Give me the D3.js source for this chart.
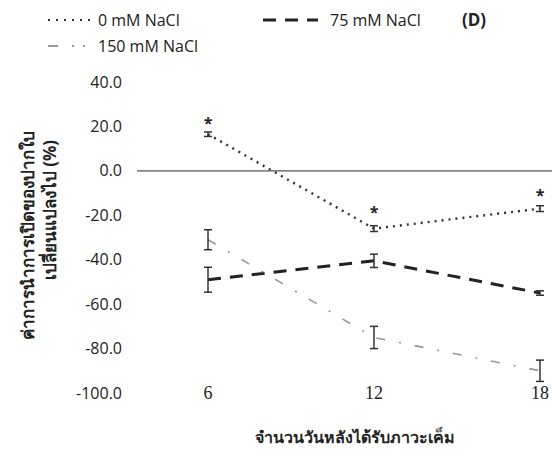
<!DOCTYPE html>
<html><head><meta charset="utf-8">
<script src="https://cdn.jsdelivr.net/npm/d3@7/dist/d3.min.js"></script>
<style>
body{margin:0;background:#fff;}
text{font-family:"Open Sans","DejaVu Sans",sans-serif;fill:#222;}
</style></head>
<body>
<svg id="c" width="552" height="465"></svg>
<script>
const days = [6, 12, 18];
const yTicks = [40, 20, 0, -20, -40, -60, -80, -100];
const yTickLabels = ["40.0","20.0","0.0","-20.0","-40.0","-60.0","-80.0","-100.0"];
const seriesNames = ["0 mM NaCl", "75 mM NaCl", "150 mM NaCl"];
const nacl0 = [16.5, -26, -17];
const nacl0Err = [1, 1.3, 1.3];
const nacl75 = [-49, -40.5, -55];
const nacl75Err = [5.6, 3, 1];
const nacl150 = [-31, -75, -90];
const nacl150Err = [4.5, 5, 4.8];
const starValues = [24, -16, -8.5];
const xTitle = "จำนวนวันหลังได้รับภาวะเค็ม";
const yTitle1 = "ค่าการนำการเปิดของปากใบ";
const yTitle2 = "เปลี่ยนแปลงไป (%)";

const svg = d3.select("#c");
const x = d3.scaleLinear().domain([6, 18]).range([208, 540]);
const y = d3.scaleLinear().domain([-100, 40]).range([393, 82]);

// y tick labels
svg.append("g").selectAll("text").data(yTicks).join("text")
  .attr("x", 122).attr("y", d => y(d)).attr("dy", "0.35em")
  .attr("text-anchor", "end").style("font-size", "16px")
  .text((d, i) => yTickLabels[i]);

// x tick labels
svg.append("g").selectAll("text").data(days).join("text")
  .attr("x", d => x(d)).attr("y", y(-100)).attr("dy", "0.35em")
  .attr("text-anchor", "middle")
  .style("font-family", "'Liberation Serif','DejaVu Serif',serif").style("font-size", "18px")
  .text(d => d);

// zero line
svg.append("line").attr("x1", 137).attr("x2", 552)
  .attr("y1", y(0)).attr("y2", y(0)).attr("stroke", "#555").attr("stroke-width", 1.2);

const line = d3.line().x((d, i) => x(days[i])).y(d => y(d));
const styles = [
  {data: nacl0, err: nacl0Err, dash: "2,5", w: 2.4, color: "#333", cap: "butt"},
  {data: nacl75, err: nacl75Err, dash: "13,9", w: 3, color: "#222", cap: "butt"},
  {data: nacl150, err: nacl150Err, dash: "9,14,2,14", w: 1.6, color: "#999", cap: "butt"}
];

styles.forEach(s => {
  svg.append("path").datum(s.data).attr("d", line)
    .attr("fill", "none").attr("stroke", s.color).attr("stroke-width", s.w)
    .attr("stroke-dasharray", s.dash).attr("stroke-linecap", s.cap);
  const g = svg.append("g").attr("stroke", "#333").attr("stroke-width", 1.5);
  s.data.forEach((v, i) => {
    const cx = x(days[i]);
    g.append("line").attr("x1", cx).attr("x2", cx).attr("y1", y(v + s.err[i])).attr("y2", y(v - s.err[i]));
    g.append("line").attr("x1", cx - 4).attr("x2", cx + 4).attr("y1", y(v + s.err[i])).attr("y2", y(v + s.err[i]));
    g.append("line").attr("x1", cx - 4).attr("x2", cx + 4).attr("y1", y(v - s.err[i])).attr("y2", y(v - s.err[i]));
  });
});

// asterisks
svg.append("g").selectAll("text").data(starValues).join("text")
  .attr("x", (d, i) => x(days[i])).attr("y", d => y(d)).attr("dy", "0.7em")
  .attr("text-anchor", "middle").style("font-size", "16px").style("font-weight", "bold")
  .text("*");

// legend
const lg = svg.append("g");
lg.append("line").attr("x1", 48).attr("x2", 95).attr("y1", 20).attr("y2", 20)
  .attr("stroke", "#333").attr("stroke-width", 2.2).attr("stroke-dasharray", "2,6");
lg.append("text").attr("x", 98).attr("y", 20).attr("dy", "0.35em").style("font-size", "16px").text(seriesNames[0]);
lg.append("line").attr("x1", 263).attr("x2", 318).attr("y1", 20).attr("y2", 20)
  .attr("stroke", "#222").attr("stroke-width", 3).attr("stroke-dasharray", "13,9");
lg.append("text").attr("x", 330).attr("y", 20).attr("dy", "0.35em").style("font-size", "16px").text(seriesNames[1]);
lg.append("line").attr("x1", 48).attr("x2", 95).attr("y1", 46).attr("y2", 46)
  .attr("stroke", "#999").attr("stroke-width", 1.8).attr("stroke-dasharray", "10,14,2,9,2,20");
lg.append("text").attr("x", 98).attr("y", 46).attr("dy", "0.35em").style("font-size", "16px").text(seriesNames[2]);
lg.append("text").attr("x", 462).attr("y", 20).attr("dy", "0.35em").style("font-size", "17px").style("font-weight", "bold").text("(D)");

// axis titles
svg.append("text").attr("x", 355).attr("y", 437).attr("dy", "0.35em").attr("text-anchor", "middle")
  .style("font-size", "16px").style("font-weight", "bold").text(xTitle);
const yt = svg.append("g").attr("transform", "translate(28,0) rotate(-90)");
yt.append("text").attr("x", -235).attr("y", 0).attr("dy", "0.35em").attr("text-anchor", "middle")
  .style("font-size", "17px").style("font-weight", "bold").text(yTitle1);
yt.append("text").attr("x", -210).attr("y", 22).attr("dy", "0.35em").attr("text-anchor", "middle")
  .style("font-size", "17px").style("font-weight", "bold").text(yTitle2);
</script>
</body></html>
